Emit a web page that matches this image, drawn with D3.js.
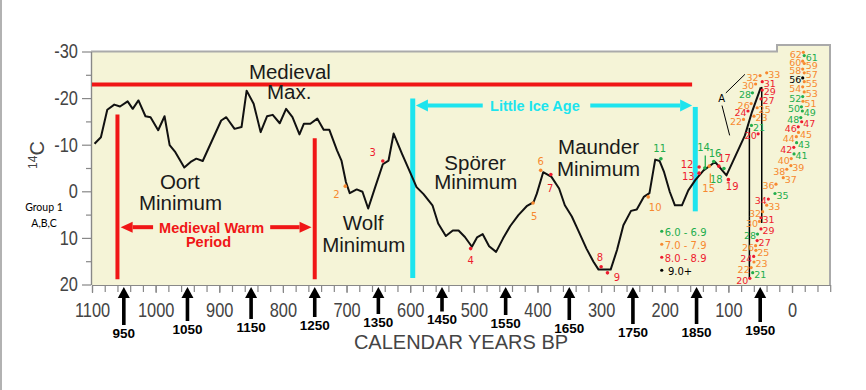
<!DOCTYPE html>
<html><head><meta charset="utf-8">
<script src="https://cdn.jsdelivr.net/npm/d3@7"></script>
<style>html,body{margin:0;padding:0;background:#fff;} svg{display:block;}</style>
</head><body>
<svg id="c" width="866" height="390"></svg>
<script>
// ---------- DATA ----------
const xTicks = [1100,1000,900,800,700,600,500,400,300,200,100,0];
const yTicks = [-30,-20,-10,0,10,20];
const arrowYears = [950,1050,1150,1250,1350,1450,1550,1650,1750,1850,1950];
// calendar years BP, delta 14C
const curve = [[1096,-10.2],[1086,-11.6],[1076,-17.5],[1065,-18.6],[1056,-18.2],[1044,-19.3],[1036,-17.7],[1027,-19.5],[1016,-16.1],[1008,-15.9],[996,-13.1],[986,-16.1],[978,-9.9],[969,-8.4],[955,-5.1],[945,-6.3],[936,-7.0],[926,-6.5],[897,-15.2],[889,-15.9],[876,-13.4],[865,-13.8],[857,-21.6],[846,-18.8],[835,-12.7],[825,-16.1],[816,-16.4],[805,-14.6],[795,-17.7],[785,-15.9],[774,-12.2],[767,-14.5],[757,-14.5],[746,-15.6],[736,-13.2],[727,-13.2],[715,-8.8],[708,-6.6],[701,-2.0],[695,0.4],[684,-0.4],[675,0.1],[666,3.7],[655,-0.9],[643,-5.8],[634,-6.6],[626,-12.4],[613,-8.1],[598,-3.4],[590,-0.9],[579,0.6],[565,3.0],[556,6.9],[544,9.6],[533,8.4],[524,8.4],[514,9.8],[503,11.9],[495,9.9],[486,9.2],[476,11.8],[465,13.0],[454,10.1],[443,7.5],[430,5.1],[417,3.2],[406,2.3],[401,0.5],[391,-4.1],[378,-3.1],[366,-0.6],[357,3.0],[346,5.4],[336,8.4],[323,12.3],[312,15.1],[304,16.8],[285,16.8],[275,12.6],[265,7.3],[253,4.2],[244,3.9],[233,1.2],[224,0.4],[215,-6.8],[208,-6.5],[201,-4.1],[192,0.15],[184,3.0],[173,3.0],[163,-0.2],[152,-2.4],[139,-4.5],[121,-6.3],[103,-3.4],[74,-12.0],[63,-17.0],[49,-22.3]];
// id, class, marker BP, marker 14C, label BP, label 14C
const curveSamples = [
 ["2","o",702,-1.1,716,0.6],["3","r",643,-6.5,659,-8.4],["4","r",505,12.3,505,14.8],
 ["5","o",407,2.5,405,5.4],["6","o",395,-4.5,395,-6.5],["7","r",379,-3.6,380,-0.6],
 ["8","r",300,16.2,302,14.2],["9","r",290,17.5,275,18.4],["10","o",226,1.2,215,3.5],
 ["11","g",206,-7.0,208,-9.2],["12","r",146,-5.2,165,-5.8],["13","r",146,-3.9,163,-3.1],
 ["14","g",137,-5.0,139,-9.5],["15","o",130,-5.4,131,-0.6],["16","g",123,-6.4,121,-8.1],
 ["17","r",115,-5.4,106,-7.0],["18","g",107,-4.9,119,-2.5],["19","r",100,-2.5,94,-1.1]
];
// id, class, label BP, label 14C
const clusterUpper = [["32","o",62,-24.4],["33","o",28,-25.0],["30","o",69,-22.6],["31","r",35,-23.1],["28","g",74,-20.7],["29","r",35,-21.3],["26","o",76,-18.4],["27","r",37,-19.4],["24","r",81,-16.8],["25","o",43,-17.5],["22","o",88,-15.0],["23","o",48,-15.7],["20","r",65,-11.9],["21","g",52,-13.7]];
const clusterLower = [["34","r",49,2.1],["33","o",28,3.4],["32","o",58,4.8],["31","r",37,6.1],["30","o",63,6.9],["29","r",37,8.5],["28","g",66,9.6],["27","r",43,11.0],["26","o",69,12.1],["25","o",45,13.1],["24","r",72,14.4],["23","o",48,15.6],["22","o",76,16.8],["21","g",50,17.9],["20","r",78,19.1]];
const clusterDiag = [["62","o",-6,-29.4],["61","g",-31,-28.7],["60","o",-5,-27.5],["59","o",-31,-27.0],["58","o",-5,-25.8],["57","o",-31,-25.0],["56","k",-5,-23.9],["55","o",-31,-23.1],["54","o",-5,-22.0],["53","o",-31,-20.9],["52","g",-5,-19.9],["51","o",-29,-18.9],["50","g",-3,-17.7],["49","g",-28,-16.8],["48","g",-2,-15.4],["47","r",-27,-14.5],["46","r",2,-13.4],["45","o",-22,-12.2],["44","o",5,-11.3],["43","g",-19,-10.0],["42","r",9,-9.0],["41","g",-15,-7.6],["40","o",13,-6.6],["39","o",-10,-5.1],["38","o",20,-4.3],["37","o",2,-2.5],["36","o",37,-1.1],["35","g",15,0.9]];
const legendClasses = ["g","o","r","k"];
const legendLabels = ["6.0 - 6.9","7.0 - 7.9","8.0 - 8.9"," 9.0+"];
const periodLabels = [["Medieval",789,-25.6],["Max.",790,-21.3],["Oort",962,-2.0],["Minimum",961,2.5],["Wolf",674,6.8],["Minimum",673,11.4],["Spörer",498,-6.1],["Minimum",497,-2.1],["Maunder",304,-9.5],["Minimum",304,-4.9]];
// reference lines in data units
const medievalMax = {c14:-22.9, from:1100, to:157};
const warmBounds = [1060, 750];          // red verticals (BP)
const warmTop = [-16.5, -11.4];
const iceBounds = [596, 152];            // cyan verticals (BP)
const iceTop = [-19.9, -18.1], iceBottom = [18.6, 4.3];
const blackLines = [[67,-13.6,18.6],[47.6,-22.4,6.8]];

// ---------- LAYOUT ----------
const L=91, B=285, R=830, notchX=777, notchT=45;
const arrowLabelY = [333,329,327,325,322,319.5,323,328,332,332,330];
const colors = {g:"#22ad4c", o:"#f7892f", r:"#ee1c2e", k:"#000"};
const RED="#f01616", CYAN="#1de4ee";

const x = d3.scaleLinear().domain([1100,-60]).range([92,830.2]);
const y = d3.scaleLinear().domain([-30,20]).range([51.5,284.5]);
const svg = d3.select("#c");

svg.append("line").attr("x1",1).attr("x2",1).attr("y1",0).attr("y2",390).attr("stroke","#999").attr("stroke-width",1.5);

const T = y(-30);
svg.append("path").attr("d",`M${L},${T}H${notchX}V${notchT}H${R}V${B}H${L}Z`).attr("fill","#f5f4d7");
svg.append("path").attr("d",`M${L},${T}H${notchX}V${notchT}H${R}V${B}`).attr("fill","none").attr("stroke","#aaa").attr("stroke-width",2);

const axisFont = "'Liberation Sans',Arial,sans-serif";
function styleAxis(g){
  g.selectAll("path,line").attr("stroke","#888").attr("stroke-width",1.2);
  g.selectAll("text").attr("fill","#444").style("font-family",axisFont).style("font-size","20px")
    .attr("transform","scale(0.82,1)");
}
// y axis
svg.append("g").attr("transform",`translate(${L},0)`)
  .call(d3.axisLeft(y).tickValues(d3.range(-25,20,10)).tickSize(5).tickFormat("").tickSizeOuter(0))
  .call(styleAxis);
svg.append("g").attr("transform",`translate(${L},0)`)
  .call(d3.axisLeft(y).tickValues(yTicks).tickSize(9).tickPadding(7).tickFormat(d=>String(d)).tickSizeOuter(0))
  .call(styleAxis);
// x axis
svg.append("g").attr("transform",`translate(0,${B})`)
  .call(d3.axisBottom(x).tickValues(d3.range(1100,-61,-20)).tickSize(7).tickFormat("").tickSizeOuter(0))
  .call(styleAxis);
svg.append("g").attr("transform",`translate(0,${B})`)
  .call(d3.axisBottom(x).tickValues(xTicks).tickSize(8).tickPadding(10).tickFormat(d=>String(d)).tickSizeOuter(0))
  .call(styleAxis);

svg.append("text").attr("x",461).attr("y",349).attr("text-anchor","middle")
  .style("font-family","'Liberation Sans',Arial,sans-serif").style("font-size","20px").attr("fill","#444")
  .text("CALENDAR YEARS BP");

const yl = svg.append("text").attr("transform","translate(44,155) rotate(-90)").attr("text-anchor","middle")
  .style("font-family","'Liberation Sans',Arial,sans-serif").attr("fill","#444");
yl.append("tspan").style("font-size","12px").attr("dy",-7).text("14");
yl.append("tspan").style("font-size","20px").attr("dy",7).text("C");

svg.append("text").attr("x",44).attr("y",211).attr("text-anchor","middle").style("font-family","Lato,sans-serif").style("font-size","10.5px").text("Group 1");
svg.append("text").attr("x",44).attr("y",227).attr("text-anchor","middle").style("font-family","Lato,sans-serif").style("font-size","10.5px").text("A,B,C");

// arrows
arrowYears.forEach((yr,i)=>{
  const xa = x(2000-yr), ly = arrowLabelY[i];
  svg.append("path").attr("d",`M${xa},${B+2}L${xa-6},${B+13}L${xa+6},${B+13}Z`).attr("fill","#000");
  svg.append("rect").attr("x",xa-1.8).attr("y",B+12).attr("width",3.6).attr("height",ly-8-(B+12)).attr("fill","#000");
  svg.append("text").attr("x",xa).attr("y",ly).attr("dy","0.35em").attr("text-anchor","middle")
    .style("font-family","'Liberation Sans',Arial,sans-serif").style("font-weight","bold").style("font-size","13.5px").text(yr);
});

// Medieval max line
svg.append("line").attr("x1",x(medievalMax.from)).attr("x2",x(medievalMax.to)).attr("y1",y(medievalMax.c14)).attr("y2",y(medievalMax.c14)).attr("stroke",RED).attr("stroke-width",4);
// warm bounds
warmBounds.forEach((b,i)=>svg.append("line").attr("x1",x(b)).attr("x2",x(b)).attr("y1",y(warmTop[i])).attr("y2",y(18.9)).attr("stroke",RED).attr("stroke-width",4));
// ice bounds
iceBounds.forEach((b,i)=>svg.append("line").attr("x1",x(b)).attr("x2",x(b)).attr("y1",y(iceTop[i])).attr("y2",y(iceBottom[i])).attr("stroke",CYAN).attr("stroke-width",5));

function arrow(x1,x2,yy,color,w,hl,hw){ // arrow head at x2
  const dir = Math.sign(x2-x1);
  svg.append("line").attr("x1",x1).attr("x2",x2-dir*hl).attr("y1",yy).attr("y2",yy).attr("stroke",color).attr("stroke-width",w);
  svg.append("path").attr("d",`M${x2},${yy}L${x2-dir*hl},${yy-hw}L${x2-dir*hl},${yy+hw}Z`).attr("fill",color);
}
// medieval warm period arrows
arrow(x(1004),x(1055),y(7.7),RED,4,12,5.5);
arrow(x(820),x(755),y(7.7),RED,4,12,5.5);
svg.append("text").attr("x",x(912)).attr("y",y(7.8)).attr("dy","0.35em").attr("text-anchor","middle").attr("fill",RED)
  .style("font-family","'Liberation Sans',Arial,sans-serif").style("font-weight","bold").style("font-size","14.5px").text("Medieval Warm");
svg.append("text").attr("x",x(917)).attr("y",y(10.9)).attr("dy","0.35em").attr("text-anchor","middle").attr("fill",RED)
  .style("font-family","'Liberation Sans',Arial,sans-serif").style("font-weight","bold").style("font-size","14.5px").text("Period");
// little ice age arrows
arrow(x(486),x(591),y(-18.4),CYAN,4,12,6);
arrow(x(317),x(157),y(-18.4),CYAN,4,12,6);
svg.append("text").attr("x",x(404)).attr("y",y(-18.4)).attr("dy","0.35em").attr("text-anchor","middle").attr("fill",CYAN)
  .style("font-family","'Liberation Sans',Arial,sans-serif").style("font-weight","bold").style("font-size","14.5px").text("Little Ice Age");

// period labels
periodLabels.forEach(p=>svg.append("text").attr("x",x(p[1])).attr("y",y(p[2])).attr("dy","0.35em").attr("text-anchor","middle")
  .attr("fill","#1a1a1a").style("font-family","'Liberation Sans',Arial,sans-serif").style("font-size","20.5px").text(p[0]));

// black vertical lines and A
blackLines.forEach(b=>svg.append("line").attr("x1",x(b[0])).attr("x2",x(b[0])).attr("y1",y(b[1])).attr("y2",y(b[2])).attr("stroke","#000").attr("stroke-width",1.5));
svg.append("line").attr("x1",x(104)).attr("y1",y(-21.1)).attr("x2",x(74)).attr("y2",y(-25.1)).attr("stroke","#000").attr("stroke-width",1);
svg.append("line").attr("x1",x(110)).attr("y1",y(-18.4)).attr("x2",x(98)).attr("y2",y(-12.0)).attr("stroke","#000").attr("stroke-width",1);
svg.append("text").attr("x",x(110.5)).attr("y",y(-19.9)).attr("dy","0.35em").attr("text-anchor","middle").style("font-family","'DejaVu Sans',sans-serif").style("font-size","10px").text("A");

// small sample ticks for 14 and 15
svg.append("line").attr("x1",x(136.3)).attr("x2",x(136.3)).attr("y1",y(-7.7)).attr("y2",y(-5.0)).attr("stroke",colors.g).attr("stroke-width",1.3);
svg.append("line").attr("x1",x(128.4)).attr("x2",x(128.4)).attr("y1",y(-3.8)).attr("y2",y(-1.8)).attr("stroke",colors.o).attr("stroke-width",1.3);

// curve
svg.append("path").datum(curve).attr("fill","none").attr("stroke","#111").attr("stroke-width",2).attr("stroke-linejoin","round")
  .attr("d",d3.line().x(d=>x(d[0])).y(d=>y(d[1])));

const numFont = "'DejaVu Sans',Verdana,sans-serif";
curveSamples.forEach(s=>{
  svg.append("circle").attr("cx",x(s[2])).attr("cy",y(s[3])).attr("r",1.8).attr("fill",colors[s[1]]);
  svg.append("text").attr("x",x(s[4])).attr("y",y(s[5])).attr("dy","0.35em").attr("text-anchor","middle").attr("fill",colors[s[1]])
    .style("font-family",numFont).style("font-size","10px").text(s[0]);
});
[clusterUpper,clusterLower,clusterDiag].forEach(cl=>cl.forEach(s=>{
  const even = (+s[0])%2===0, cx = x(s[2]), cy = y(s[3]);
  svg.append("circle").attr("cx",cx+(even?7.5:-7.5)).attr("cy",cy-2).attr("r",1.6).attr("fill",colors[s[1]]);
  svg.append("text").attr("x",cx).attr("y",cy).attr("dy","0.35em").attr("text-anchor","middle").attr("fill",colors[s[1]])
    .style("font-family",numFont).style("font-size","9.5px").text(s[0]);
}));

// legend
legendClasses.forEach((c,i)=>{
  const ly = y(8.9)+i*13;
  svg.append("circle").attr("cx",x(200)-3).attr("cy",ly-1.5).attr("r",1.6).attr("fill",colors[c]);
  svg.append("text").attr("x",x(200)).attr("y",ly).attr("dy","0.35em").attr("fill",colors[c])
    .style("font-family",numFont).style("font-size","10px").style("white-space","pre").text(legendLabels[i]);
});
</script>
</body></html>
